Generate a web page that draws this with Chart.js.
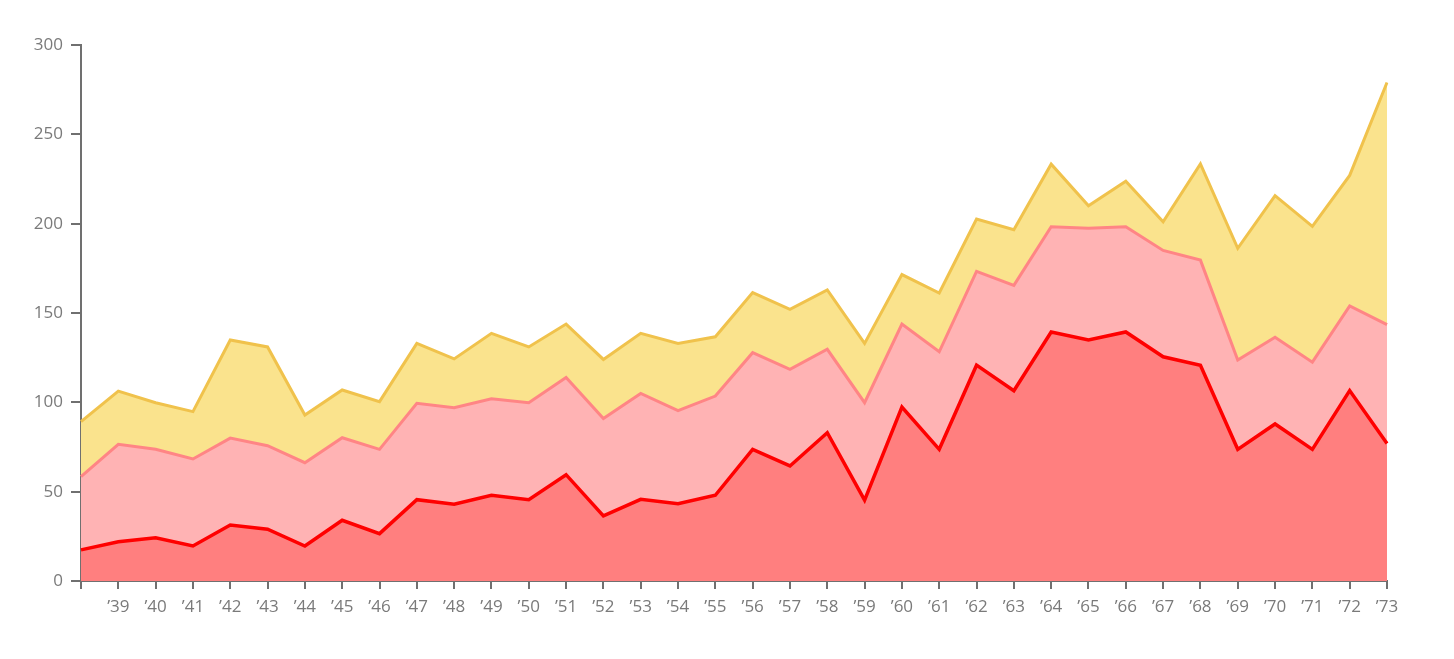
<!DOCTYPE html>
<html>
<head>
<meta charset="utf-8">
<script src="https://cdn.jsdelivr.net/npm/chart.js@4/dist/chart.umd.min.js"></script>
<style>
  html, body { margin: 0; padding: 0; background: #fff; }
  #wrap { width: 1454px; height: 659px; position: relative; }
</style>
</head>
<body>
<div id="wrap"><canvas id="c" width="1454" height="659"></canvas></div>
<script>
const years = ['’38','’39','’40','’41','’42','’43','’44','’45','’46','’47','’48','’49','’50','’51','’52','’53','’54','’55','’56','’57','’58','’59','’60','’61','’62','’63','’64','’65','’66','’67','’68','’69','’70','’71','’72','’73'];

const seriesRed = [17.4, 22, 24.2, 19.6, 31.3, 29, 19.6, 34, 26.5, 45.5, 43, 48, 45.5, 59.5, 36.4, 45.7, 43.3, 48, 73.7, 64.4, 83, 45.3, 97.4, 73.7, 120.8, 106.5, 139.4, 134.9, 139.4, 125.5, 120.8, 73.7, 87.9, 73.7, 106.6, 77];
const seriesPink = [41, 54.5, 49.5, 48.7, 48.7, 46.7, 46.6, 46.2, 47.2, 54, 54, 54, 54.3, 54.4, 54.6, 59.3, 52, 55.5, 54.1, 54.1, 46.7, 54.5, 46.4, 54.6, 52.5, 59, 58.9, 62.5, 58.9, 59.5, 58.8, 50, 48.5, 48.8, 47.3, 66.5];
const seriesYellow = [30.8, 29.8, 26.1, 26.5, 54.9, 55.3, 26.7, 26.7, 26.7, 33.5, 27.3, 36.6, 31.2, 29.9, 33, 33.6, 37.7, 33.2, 33.6, 33.5, 33.2, 33.2, 27.7, 32.9, 29.3, 31.1, 35, 12.6, 25.4, 16.1, 53.9, 62.5, 79.3, 76, 73.1, 135.5];

const yTicks = [0, 50, 100, 150, 200, 250, 300];

const axisColor = '#707070';
const labelColor = '#7a7a7a';
const fontFamily = '"Open Sans", "Noto Sans", sans-serif';

new Chart(document.getElementById('c'), {
  type: 'line',
  data: {
    labels: years,
    datasets: [
      { data: seriesRed, borderColor: '#ff0000', backgroundColor: '#ff7f7f', borderWidth: 3.5, fill: 'origin', pointRadius: 0, tension: 0 },
      { data: seriesPink, borderColor: '#ff8585', backgroundColor: '#ffb3b4', borderWidth: 3, fill: '-1', pointRadius: 0, tension: 0 },
      { data: seriesYellow, borderColor: '#f0c24c', backgroundColor: '#fae38d', borderWidth: 3, fill: '-1', pointRadius: 0, tension: 0 }
    ]
  },
  options: {
    responsive: false,
    animation: false,
    layout: { padding: { left: 0, right: 67, top: 45, bottom: 0 } },
    plugins: { legend: { display: false }, tooltip: { enabled: false } },
    scales: {
      x: {
        type: 'category',
        offset: false,
        border: { display: true, color: axisColor, width: 2 },
        grid: { drawOnChartArea: false, drawTicks: true, tickLength: 8, color: axisColor, lineWidth: 2 },
        ticks: {
          autoSkip: false, maxRotation: 0, minRotation: 0, padding: 8,
          color: labelColor, font: { family: fontFamily, size: 17 },
          callback: (v, i) => i === 0 ? '' : years[i]
        },
        afterFit: s => { s.height = 78; }
      },
      y: {
        stacked: true,
        min: 0, max: 300,
        border: { display: true, color: axisColor, width: 2 },
        grid: { drawOnChartArea: false, drawTicks: true, tickLength: 10, color: axisColor, lineWidth: 2 },
        afterBuildTicks: s => { s.ticks = yTicks.map(v => ({ value: v })); },
        ticks: { padding: 8, color: labelColor, font: { family: fontFamily, size: 17 } },
        afterFit: s => { s.width = 81; }
      }
    }
  }
});
</script>
</body>
</html>
